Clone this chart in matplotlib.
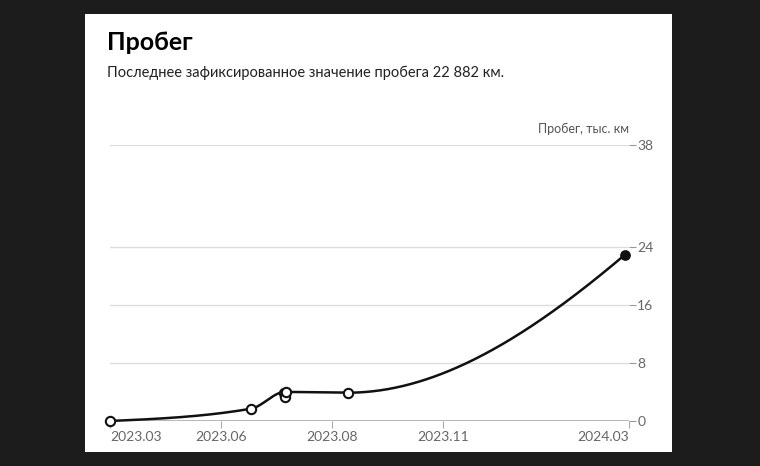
import matplotlib
matplotlib.use("Agg")
import matplotlib.pyplot as plt
import numpy as np
from matplotlib.patches import Rectangle

x_pos = [0, 27.2, 33.5, 33.7, 33.9, 45.9, 99.2]
mileage = [0, 1.7, 3.9, 3.3, 4.0, 3.9, 22.882]
tick_pos = [0, 21.4, 42.8, 64.2, 100]
tick_labels = ["2023.03", "2023.06", "2023.08", "2023.11", "2024.03"]
y_ticks = [0, 8, 16, 24, 38]

def hermite(x, y, xs, end_mult=1.7):
    x = np.asarray(x, float); y = np.asarray(y, float)
    h = np.diff(x); d = np.diff(y) / h
    m = np.zeros_like(y)
    for k in range(1, len(x) - 1):
        if d[k-1] * d[k] > 0:
            w1 = 2*h[k] + h[k-1]; w2 = h[k] + 2*h[k-1]
            m[k] = (w1 + w2) / (w1/d[k-1] + w2/d[k])
    m[0] = d[0] * 0.5; m[-1] = d[-1] * end_mult
    out = np.empty_like(xs)
    for i, xv in enumerate(xs):
        k = min(np.searchsorted(x, xv) - 1, len(x) - 2); k = max(k, 0)
        t = (xv - x[k]) / h[k]
        h00 = 2*t**3 - 3*t**2 + 1; h10 = t**3 - 2*t**2 + t
        h01 = -2*t**3 + 3*t**2; h11 = t**3 - t**2
        out[i] = h00*y[k] + h10*h[k]*m[k] + h01*y[k+1] + h11*h[k]*m[k+1]
    return out

fig = plt.figure(figsize=(7.6, 4.66), dpi=100)
fig.patch.set_facecolor("#1c1c1c")
fig.patches.append(Rectangle((85/760, 14/466), 587/760, 438/466, transform=fig.transFigure,
                             facecolor="white", edgecolor="none", zorder=-5))
fig.text(107/760, 1 - 42/466, "Пробег", fontsize=18, fontweight="bold", va="center", family="Lato")
fig.text(107/760, 1 - 73/466, "Последнее зафиксированное значение пробега 22 882 км.", fontsize=10.5,
         va="center", family="Lato", color="#222222")

ax = fig.add_axes([110/760, 45/466, 519/760, 276/466])
ax.set_zorder(2)
ax.set_facecolor("none")
ax.set_xlim(0, 100); ax.set_ylim(0, 38)
for v in y_ticks[1:]:
    ax.axhline(v, color="#dddddd", lw=1, zorder=1)
ax.axhline(0, color="#aaaaaa", lw=1.2, zorder=1)

ux = [0, 27.2, 33.7, 45.9, 99.2]; uy = [0, 1.7, 4.0, 3.9, 22.882]
xs = np.linspace(ux[0], ux[-1], 400)
ax.plot(xs, hermite(ux, uy, xs), color="#111111", lw=1.8, zorder=3, clip_on=False)
ax.scatter(x_pos[:-1], mileage[:-1], s=45, facecolor="white", edgecolor="#111111", lw=1.5, zorder=4, clip_on=False)
ax.scatter([x_pos[-1]], [mileage[-1]], s=45, color="#111111", zorder=4, clip_on=False)

for s in ax.spines.values():
    s.set_visible(False)
ax.yaxis.tick_right()
ax.set_yticks(y_ticks)
ax.tick_params(axis="y", length=5, color="#999999", labelcolor="#666666", labelsize=10, pad=1)
ax.set_xticks(tick_pos)
ax.set_xticklabels(tick_labels)
ax.tick_params(axis="x", length=5, color="#aaaaaa", labelcolor="#666666", labelsize=10, pad=2)
lbls = ax.get_xticklabels()
lbls[0].set_ha("left"); lbls[-1].set_ha("right")
for l in ax.get_xticklabels() + ax.get_yticklabels():
    l.set_family("Lato")
ax.text(1.0, 1.035, "Пробег, тыс. км", transform=ax.transAxes, ha="right", va="bottom",
        fontsize=9, color="#555555", family="Lato")
fig.savefig("out.png", dpi=100, facecolor=fig.get_facecolor())
